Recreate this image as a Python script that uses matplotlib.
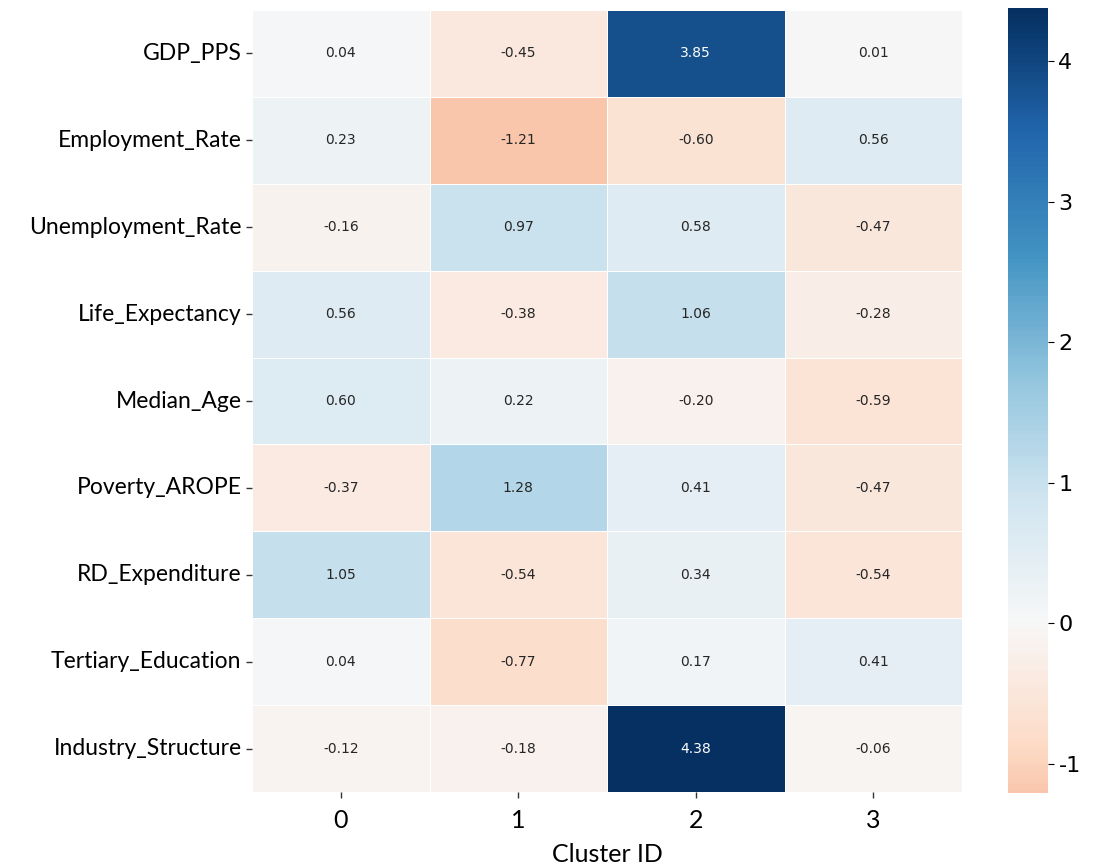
import numpy as np
import matplotlib
matplotlib.use("Agg")
import matplotlib.pyplot as plt
import seaborn as sns

plt.rcParams["axes.unicode_minus"] = False

features = ["GDP_PPS", "Employment_Rate", "Unemployment_Rate", "Life_Expectancy",
            "Median_Age", "Poverty_AROPE", "RD_Expenditure", "Tertiary_Education",
            "Industry_Structure"]
clusters = ["0", "1", "2", "3"]

cluster_0 = [0.04, 0.23, -0.16, 0.56, 0.60, -0.37, 1.05, 0.04, -0.12]
cluster_1 = [-0.45, -1.21, 0.97, -0.38, 0.22, 1.28, -0.54, -0.77, -0.18]
cluster_2 = [3.85, -0.60, 0.58, 1.06, -0.20, 0.41, 0.34, 0.17, 4.38]
cluster_3 = [0.01, 0.56, -0.47, -0.28, -0.59, -0.47, -0.54, 0.41, -0.06]

data = np.column_stack([cluster_0, cluster_1, cluster_2, cluster_3])

W, H = 1095, 865
fig = plt.figure(figsize=(W / 100, H / 100), dpi=100)
ax = fig.add_axes([252 / W, 1 - 792 / H, (962 - 252) / W, (792 - 10) / H])
cax = fig.add_axes([1008 / W, 1 - 793 / H, 40 / W, (793 - 8) / H])

sns.heatmap(data, ax=ax, cbar_ax=cax, cmap="RdBu", center=0,
            annot=True, fmt=".2f", annot_kws={"fontsize": 10, "family": "DejaVu Sans"},
            linewidths=0.5, linecolor="white",
            xticklabels=clusters, yticklabels=features)

ax.set_xticklabels(clusters, fontsize=18, family="Lato", rotation=0)
ax.set_yticklabels(features, fontsize=16.5, family="Lato", rotation=0)
ax.tick_params(axis="both", length=4, width=1, color="#333333")
ax.tick_params(axis="x", pad=8)
ax.set_xlabel("Cluster ID", fontsize=18, family="Lato", labelpad=8)
ax.set_ylabel("")

cax.tick_params(labelsize=16, length=4)
for lbl in cax.get_yticklabels():
    lbl.set_family("DejaVu Sans")

fig.savefig("out.png", dpi=100)
